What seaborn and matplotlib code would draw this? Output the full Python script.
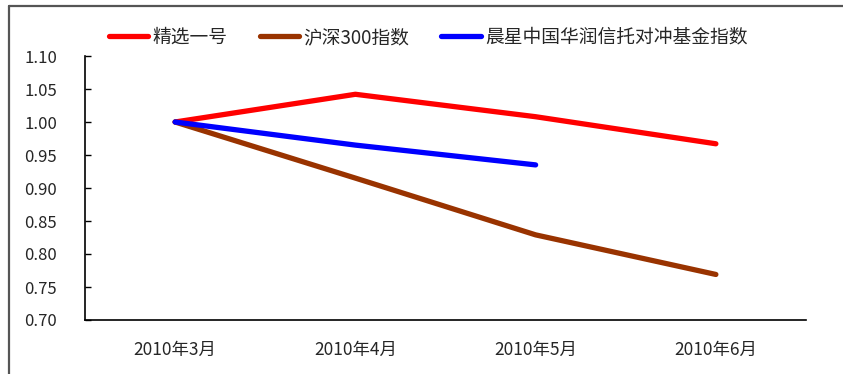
import pandas as pd
import numpy as np
import seaborn as sns
import matplotlib.pyplot as plt
from matplotlib.lines import Line2D

months = ['2010年3月', '2010年4月', '2010年5月', '2010年6月']
jingxuan = [1.000, 1.042, 1.008, 0.967]
hs300 = [1.000, 0.915, 0.829, 0.769]
chenxing = [1.000, 0.965, 0.935, np.nan]
names = ['精选一号', '沪深300指数', '晨星中国华润信托对冲基金指数']
colors = ['#FF0000', '#993300', '#0000FF']
yticks = [0.70, 0.75, 0.80, 0.85, 0.90, 0.95, 1.00, 1.05, 1.10]

df = pd.DataFrame({'month': list(range(len(months))) * 3,
                   'value': jingxuan + hs300 + chenxing,
                   'series': [n for n in names for _ in months]})

sns.set_style('white')
plt.rcParams['font.family'] = ['Noto Sans CJK SC', 'DejaVu Sans']

fig = plt.figure(figsize=(8.43, 3.74), dpi=100)
ax = fig.add_axes([85 / 843, 1 - 320 / 374, 721 / 843, 264 / 374])

sns.lineplot(data=df, x='month', y='value', hue='series', hue_order=names,
             palette=colors, linewidth=3.8, ax=ax, legend=False,
             solid_capstyle='round')

ax.set_xlim(-0.5, 3.5)
ax.set_ylim(0.70, 1.10)
ax.set_yticks(yticks)
ax.set_yticklabels([f'{v:.2f}' for v in yticks], fontsize=12)
ax.set_xticks([-0.5, 0.5, 1.5, 2.5, 3.5])
ax.set_xticklabels([])
ax.set_xticks(range(len(months)), minor=True)
ax.set_xticklabels(months, minor=True, fontsize=12.5)
ax.tick_params(axis='x', which='major', direction='in', length=4, width=1, color='black')
ax.tick_params(axis='x', which='minor', length=0, pad=15)
ax.tick_params(axis='y', direction='in', length=4, width=1, color='black', pad=20, left=True)
ax.set_xlabel('')
ax.set_ylabel('')
for s in ['top', 'right']:
    ax.spines[s].set_visible(False)
for s in ['left', 'bottom']:
    ax.spines[s].set_color('black')
    ax.spines[s].set_linewidth(1.2)

handles = [Line2D([], [], color=c, linewidth=3.8) for c in colors]
fig.legend(handles, names, loc='center', bbox_to_anchor=(0.508, 0.9), ncol=3,
           frameon=False, fontsize=13.5, handlelength=2.1, handletextpad=0.25,
           columnspacing=1.7)

# outer chart frame (top and left edge)
fig.add_artist(Line2D([9 / 843, 1], [1 - 6 / 374, 1 - 6 / 374], color='#555555', linewidth=1.6))
fig.add_artist(Line2D([9 / 843, 9 / 843], [0, 1 - 6 / 374], color='#555555', linewidth=1.6))

fig.savefig('out.png', dpi=100)
